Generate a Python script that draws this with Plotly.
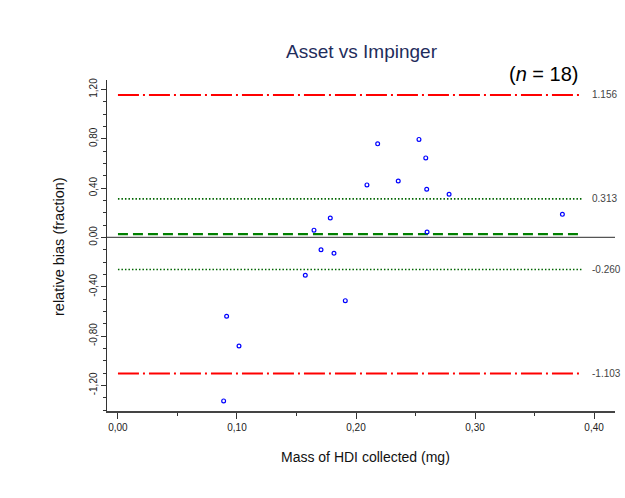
import plotly.graph_objects as go

# ---- data ----
mass_mg = [0.2182, 0.2529, 0.2586, 0.2092, 0.2355, 0.2594, 0.2782, 0.1784, 0.1647,
           0.2597, 0.1706, 0.1815, 0.1574, 0.1910, 0.0913, 0.1017, 0.0888, 0.3734]
rel_bias = [0.759, 0.795, 0.645, 0.426, 0.458, 0.391, 0.350, 0.157, 0.059,
            0.043, -0.100, -0.128, -0.307, -0.513, -0.640, -0.881, -1.326, 0.187]

mean_bias = 0.0265
ci_upper = 0.313
ci_lower = -0.260
loa_upper = 1.156
loa_lower = -1.103
ref_x = [0.0, 0.39]

ref_labels = ["1.156", "0.313", "-0.260", "-1.103"]
ref_values = [loa_upper, ci_upper, ci_lower, loa_lower]

x_tickvals = [0.0, 0.1, 0.2, 0.3, 0.4]
x_ticktext = ["0,00", "0,10", "0,20", "0,30", "0,40"]
x_minor = [0.05, 0.15, 0.25, 0.35]
y_tickvals = [-1.2, -0.8, -0.4, 0.0, 0.4, 0.8, 1.2]
y_ticktext = ["-1,20", "-0,80", "-0,40", "0,00", "0,40", "0,80", "1,20"]
y_minor = [-1.4, -1.3, -1.1, -1.0, -0.9, -0.7, -0.6, -0.5, -0.3, -0.2, -0.1,
           0.1, 0.2, 0.3, 0.5, 0.6, 0.7, 0.9, 1.0, 1.1]

FONT = "Liberation Sans, Arial, sans-serif"

# plot area in pixels
W, H = 625, 498
L, R, T, B = 107, 10, 80, 87
PW, PH = W - L - R, H - T - B


def px_x(px):
    return (px - L) / PW


def px_y(py):
    return (H - B - py) / PH


fig = go.Figure()

# limits of agreement (red dash-dot)
for v in [loa_upper, loa_lower]:
    fig.add_trace(go.Scatter(x=ref_x, y=[v, v], mode="lines", hoverinfo="skip",
                             line=dict(color="#ff0000", width=2, dash="21px,4px,2px,4px"),
                             showlegend=False))
# confidence interval (green dotted)
for v in [ci_upper, ci_lower]:
    fig.add_trace(go.Scatter(x=ref_x, y=[v, v], mode="lines", hoverinfo="skip",
                             line=dict(color="#006400", width=1.6, dash="1.5px,2px"),
                             showlegend=False))
# mean bias (green dashed)
fig.add_trace(go.Scatter(x=ref_x, y=[mean_bias, mean_bias], mode="lines", hoverinfo="skip",
                         line=dict(color="#008000", width=2.2, dash="10px,5px"),
                         showlegend=False))

# data points
fig.add_trace(go.Scatter(x=mass_mg, y=rel_bias, mode="markers",
                         marker=dict(symbol="circle-open", size=3.8, color="#0000ff",
                                     line=dict(width=1.2, color="#0000ff")),
                         showlegend=False))

# zero line across the full plot width
fig.add_shape(type="line", xref="paper", x0=0, x1=1, yref="y", y0=0, y1=0,
              line=dict(color="#555555", width=1.3), layer="below")

for t, v in zip(ref_labels, ref_values):
    fig.add_annotation(x=0.397, y=v, xref="x", yref="y", text=t, showarrow=False,
                       xanchor="left", yanchor="middle",
                       font=dict(family=FONT, size=10, color="#444444"))

fig.add_annotation(x=px_x(544), y=px_y(74), xref="paper", yref="paper",
                   text="(<i>n</i> = 18)", showarrow=False,
                   xanchor="center", yanchor="middle",
                   font=dict(family=FONT, size=20, color="#000000"))

# axis titles
fig.add_annotation(x=px_x(365), y=px_y(457), xref="paper", yref="paper",
                   text="Mass of HDI collected (mg)", showarrow=False,
                   xanchor="center", yanchor="middle",
                   font=dict(family=FONT, size=14, color="#111111"))
fig.add_annotation(x=px_x(58.5), y=px_y(246.5), xref="paper", yref="paper",
                   text="relative bias (fraction)", showarrow=False, textangle=-90,
                   xanchor="center", yanchor="middle",
                   font=dict(family=FONT, size=14.5, color="#111111"))

fig.update_layout(
    width=W, height=H,
    margin=dict(l=L, r=R, t=T, b=B),
    paper_bgcolor="white", plot_bgcolor="white",
    title=dict(text="Asset vs Impinger", x=361.5 / W, xanchor="center",
               y=1 - 51 / H, yanchor="middle",
               font=dict(family=FONT, size=19, color="#1f2d5c")),
    font=dict(family=FONT),
)

fig.update_xaxes(range=[-0.0092, 0.4176], showgrid=False, zeroline=False,
                 showline=True, linecolor="#444444", linewidth=1.5,
                 tickmode="array", tickvals=x_tickvals, ticktext=x_ticktext,
                 ticks="outside", ticklen=6, tickwidth=1.2, tickcolor="#333333",
                 tickfont=dict(family=FONT, size=10, color="#222222"),
                 minor=dict(tickmode="array", tickvals=x_minor, ticks="outside",
                            ticklen=3, tickwidth=1, tickcolor="#333333"))
fig.update_yaxes(range=[-1.408, 1.277], showgrid=False, zeroline=False,
                 showline=True, linecolor="#333333", linewidth=1.3,
                 tickmode="array", tickvals=y_tickvals, ticktext=y_ticktext,
                 tickangle=-90,
                 ticks="outside", ticklen=5, tickwidth=1.2, tickcolor="#333333",
                 tickfont=dict(family=FONT, size=10, color="#222222"),
                 minor=dict(tickmode="array", tickvals=y_minor, ticks="outside",
                            ticklen=3, tickwidth=1, tickcolor="#333333"))

fig.write_html("out.html")
